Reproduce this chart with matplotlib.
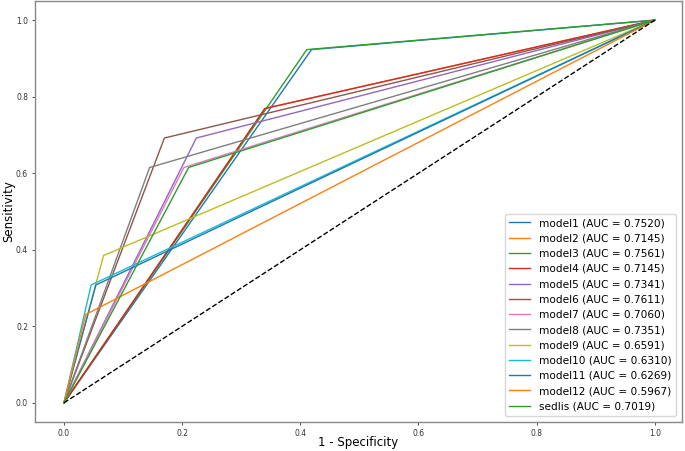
import matplotlib
matplotlib.use("Agg")
import matplotlib.pyplot as plt

names = ["model1", "model2", "model3", "model4", "model5", "model6", "model7",
         "model8", "model9", "model10", "model11", "model12", "sedlis"]
auc = [0.7520, 0.7145, 0.7561, 0.7145, 0.7341, 0.7611, 0.7060,
       0.7351, 0.6591, 0.6310, 0.6269, 0.5967, 0.7019]
# one operating point per model (1 - specificity, sensitivity)
fpr_mid = [0.419, 0.340, 0.411, 0.340, 0.224, 0.170, 0.203,
           0.145, 0.067, 0.046, 0.054, 0.037, 0.211]
tpr_mid = [0.923, 0.769, 0.923, 0.769, 0.692, 0.692, 0.615,
           0.615, 0.385, 0.308, 0.308, 0.231, 0.615]

fig = plt.figure(figsize=(6.85, 4.51), dpi=100)
ax = fig.add_axes([35 / 685, 29 / 451, 647 / 685, 421 / 451])

for i in range(len(names)):
    ax.plot([0, fpr_mid[i], 1], [0, tpr_mid[i], 1], lw=1,
            label=names[i] + " (AUC = %.4f)" % auc[i])

ax.plot([0, 1], [0, 1], "k--", lw=1)

ax.set_xlim(-0.049, 1.046)
ax.set_xlabel("1 - Specificity", fontsize=8.5)
ax.set_ylabel("Sensitivity", fontsize=8.5)
ax.xaxis.set_label_coords(0.5, -0.034)
ax.yaxis.set_label_coords(-0.031, 0.5)
ax.tick_params(labelsize=5.5, length=2.5, width=0.6, colors="#333333", pad=2.5)
for s in ax.spines.values():
    s.set_color("#888888")
    s.set_linewidth(1)
ax.legend(loc="lower right", fontsize=7.6, borderaxespad=0.6)

fig.savefig("out.png", dpi=100)
